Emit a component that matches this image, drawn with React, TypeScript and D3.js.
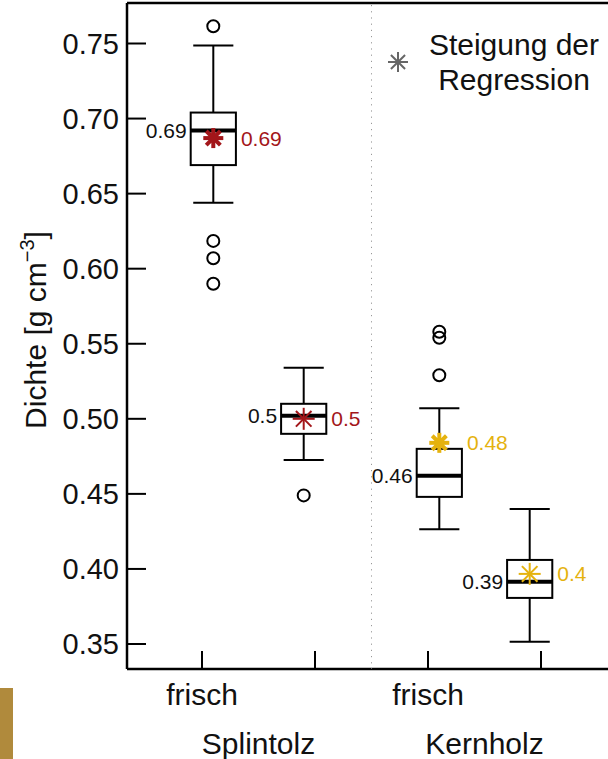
import React from "react";
import * as d3 from "d3";

// ---- data ----
const tickPositions = [1, 2, 3, 4];
const tickLabels = ["frisch", "", "frisch", ""];
const groupLabels = ["Splintolz", "Kernholz"];
const groupCenters = [1.5, 3.5];
const boxPositions = [1.1, 1.9, 3.1, 3.9];
const whiskerLow = [0.644, 0.4725, 0.4265, 0.3515];
const q1 = [0.669, 0.49, 0.448, 0.3807];
const medians = [0.692, 0.502, 0.462, 0.3915];
const q3 = [0.704, 0.51, 0.48, 0.406];
const whiskerHigh = [0.7487, 0.534, 0.507, 0.44];
const outliers = [[0.7615, 0.6185, 0.607, 0.59], [0.449], [0.558, 0.554, 0.529], []];
const slopes = [0.687, 0.5, 0.484, 0.3967];
const medianLabels = ["0.69", "0.5", "0.46", "0.39"];
const slopeLabels = ["0.69", "0.5", "0.48", "0.4"];
const yTicks = [0.35, 0.4, 0.45, 0.5, 0.55, 0.6, 0.65, 0.7, 0.75];
const legendLines = ["Steigung der", "Regression"];

// ---- styles ----
const RED = "#a3161a";
const GOLD = "#e5b20e";
const slopeColors = [RED, RED, GOLD, GOLD];
const starBold = [true, false, true, false];
const FONT = "'Liberation Sans', Arial, Helvetica, sans-serif";

const W = 608;
const H = 759;
const left = 127;
const top = 3;
const bottom = 669;

const x = d3.scaleLinear().domain([1, 4]).range([202, 541]);
const y = d3.scaleLinear().domain([0.35, 0.75]).range([644, 43.5]);

const boxW = x(1.4) - x(1);
const capW = x(1.355) - x(1);

function Star({ cx, cy, r, color, width }: { cx: number; cy: number; r: number; color: string; width: number }) {
  const angles = [0, 45, 90, 135];
  return (
    <g>
      {angles.map((a) => {
        const rad = (a * Math.PI) / 180;
        const dx = Math.cos(rad) * r;
        const dy = Math.sin(rad) * r;
        return (
          <line key={a} x1={cx - dx} y1={cy - dy} x2={cx + dx} y2={cy + dy} stroke={color} strokeWidth={width} />
        );
      })}
    </g>
  );
}

export default function App() {
  return (
    <svg
      width={W}
      height={H}
      style={{ position: "absolute", left: 0, top: 0, background: "#fff" }}
      fontFamily={FONT}
    >
      <rect x={0} y={0} width={W} height={H} fill="#fff" />
      {/* frame */}
      <line x1={left} y1={top} x2={W + 10} y2={top} stroke="#000" strokeWidth={2.5} />
      <line x1={left} y1={top} x2={left} y2={bottom} stroke="#000" strokeWidth={2.5} />
      <line x1={left} y1={bottom} x2={W + 10} y2={bottom} stroke="#000" strokeWidth={2.5} />
      {/* separator */}
      <line
        x1={x(2.5)}
        y1={top + 2}
        x2={x(2.5)}
        y2={bottom}
        stroke="#999"
        strokeWidth={1}
        strokeDasharray="1.2,5"
      />
      {/* y ticks */}
      {yTicks.map((t) => (
        <g key={t}>
          <line x1={left} x2={left + 19} y1={y(t)} y2={y(t)} stroke="#000" strokeWidth={2} />
          <text x={left - 8} y={y(t)} textAnchor="end" dominantBaseline="central" fontSize={29} fill="#111">
            {d3.format(".2f")(t)}
          </text>
        </g>
      ))}
      {/* x ticks */}
      {tickPositions.map((t, i) => (
        <g key={t}>
          <line x1={x(t)} x2={x(t)} y1={bottom} y2={bottom - 18} stroke="#000" strokeWidth={2} />
          {tickLabels[i] && (
            <text x={x(t)} y={705} textAnchor="middle" fontSize={30} fill="#111">
              {tickLabels[i]}
            </text>
          )}
        </g>
      ))}
      {groupLabels.map((g, i) => (
        <text key={g} x={x(groupCenters[i])} y={754} textAnchor="middle" fontSize={30} fill="#111">
          {g}
        </text>
      ))}
      {/* y axis title */}
      <text
        transform={`translate(46, 330) rotate(-90)`}
        textAnchor="middle"
        fontSize={30}
        fill="#111"
      >
        Dichte [g cm
        <tspan dy={-12} fontSize={20}>−3</tspan>
        <tspan dy={12}>]</tspan>
      </text>
      {/* boxes */}
      {boxPositions.map((p, i) => {
        const cx = x(p);
        return (
          <g key={i}>
            <line x1={cx} x2={cx} y1={y(q3[i])} y2={y(whiskerHigh[i])} stroke="#000" strokeWidth={2} />
            <line x1={cx} x2={cx} y1={y(q1[i])} y2={y(whiskerLow[i])} stroke="#000" strokeWidth={2} />
            <line x1={cx - capW / 2} x2={cx + capW / 2} y1={y(whiskerHigh[i])} y2={y(whiskerHigh[i])} stroke="#000" strokeWidth={2} />
            <line x1={cx - capW / 2} x2={cx + capW / 2} y1={y(whiskerLow[i])} y2={y(whiskerLow[i])} stroke="#000" strokeWidth={2} />
            <rect
              x={cx - boxW / 2}
              y={y(q3[i])}
              width={boxW}
              height={y(q1[i]) - y(q3[i])}
              fill="#fff"
              stroke="#000"
              strokeWidth={2}
            />
            <line x1={cx - boxW / 2} x2={cx + boxW / 2} y1={y(medians[i])} y2={y(medians[i])} stroke="#000" strokeWidth={4} />
            {outliers[i].map((o, j) => (
              <circle key={j} cx={cx} cy={y(o)} r={6} fill="none" stroke="#000" strokeWidth={2} />
            ))}
            <Star cx={cx} cy={y(slopes[i])} r={starBold[i] ? 10 : 11} color={slopeColors[i]} width={starBold[i] ? 4 : 2} />
            {starBold[i] && <circle cx={cx} cy={y(slopes[i])} r={5} fill={slopeColors[i]} />}
            <text
              x={cx - boxW / 2 - 4}
              y={y(medians[i])}
              textAnchor="end"
              dominantBaseline="central"
              fontSize={21}
              fill="#111"
            >
              {medianLabels[i]}
            </text>
            <text
              x={cx + boxW / 2 + 5}
              y={y(slopes[i])}
              dominantBaseline="central"
              fontSize={21}
              fill={slopeColors[i]}
            >
              {slopeLabels[i]}
            </text>
          </g>
        );
      })}
      {/* legend */}
      <Star cx={398} cy={62} r={10} color="#666" width={2} />
      {legendLines.map((l, i) => (
        <text key={l} x={514} y={55 + i * 35} textAnchor="middle" fontSize={30} fill="#111">
          {l}
        </text>
      ))}
      {/* tan corner block */}
      <rect x={0} y={688} width={13} height={H - 688} fill="#b08a3c" />
    </svg>
  );
}
